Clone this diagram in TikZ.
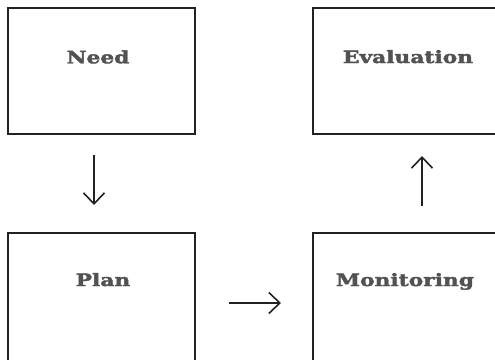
\documentclass[tikz,border=0pt]{standalone}
\usepackage{fontspec}
\setmainfont{DejaVu Serif}
\newfontfamily\slabfont[FakeStretch=1.28,FakeBold=2.2]{DejaVu Serif Bold}
\usetikzlibrary{arrows.meta}
\definecolor{txtgray}{HTML}{525252}
\definecolor{linedark}{HTML}{222222}
\begin{document}
\begin{tikzpicture}[x=1pt,y=-1pt,
  stagebox/.style={rectangle,minimum width=#1,minimum height=200pt,inner sep=0pt,outer sep=0pt,anchor=north west},
  boxline/.style={draw=linedark,line width=2.6pt,line cap=rect},
  stagetext/.style={text=txtgray,font=\slabfont\fontsize{17}{20}\selectfont,inner sep=0pt,anchor=base},
  flow/.style={draw=linedark,line width=1.6pt,-{Straight Barb[length=11pt,width=21pt,line width=1.6pt]}}]
\useasboundingbox (0,0) rectangle (495,359);
\node[stagebox=187pt,minimum height=126pt] (need) at (8,8) {};
\node[stagebox=250pt,minimum height=126pt] (eval) at (313,8) {};
\node[stagebox=187pt] (plan) at (8,233) {};
\node[stagebox=250pt] (mon) at (313,233) {};
\draw[boxline] (need.north west) rectangle (need.south east);
\draw[boxline] (plan.south west) -- (plan.north west) -- (plan.north east) -- (plan.south east);
\draw[boxline] (eval.north east) -- (eval.north west) -- (eval.south west) -- (eval.south east);
\draw[boxline] (mon.south west) -- (mon.north west) -- (mon.north east);
\node[stagetext] (needt) at (98,63.3) {Need};
\node[stagetext] (evalt) at (408,63) {Evaluation};
\node[stagetext] (plant) at (103,286) {Plan};
\node[stagetext] (mont) at (405,286) {Monitoring};
\coordinate (planr) at (195,303);
\coordinate (monl) at (313,303);
\coordinate (downx) at (94,0);
\coordinate (upx) at (422,0);
\draw[flow,shorten <=21pt,shorten >=28pt] (need.south -| downx) -- (plan.north -| downx);
\draw[flow,shorten <=34pt,shorten >=32pt] (planr) -- (monl);
\draw[flow,shorten <=27pt,shorten >=22pt] (mon.north -| upx) -- (eval.south -| upx);
\end{tikzpicture}
\end{document}
